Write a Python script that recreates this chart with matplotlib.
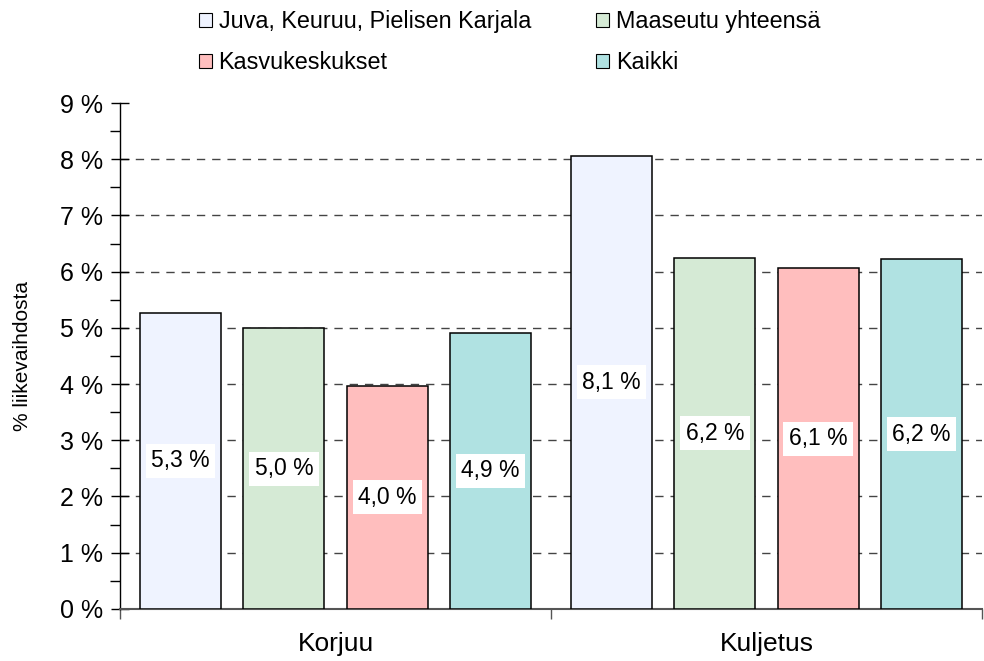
import numpy as np
import matplotlib
matplotlib.use("Agg")
import matplotlib.pyplot as plt
from matplotlib.patches import Patch

plt.rcParams['font.family'] = ['Liberation Sans', 'DejaVu Sans']

# data
categories = ['Korjuu', 'Kuljetus']
series = ['Juva, Keuruu, Pielisen Karjala', 'Maaseutu yhteensä', 'Kasvukeskukset', 'Kaikki']
juva = [5.27, 8.06]
maaseutu = [4.99, 6.24]
kasvu = [3.97, 6.06]
kaikki = [4.91, 6.22]
values = [juva, maaseutu, kasvu, kaikki]
colors = ['#eff3ff', '#d5ead5', '#ffbebe', '#b0e2e2']

fig = plt.figure(figsize=(9.84, 6.61), dpi=100)
ax = fig.add_axes([0.122, 0.079, 0.876, 0.765])

x = np.arange(len(categories))
step = 0.24
width = 0.188
for i, (vals, col) in enumerate(zip(values, colors)):
    pos = x + (i - 1.5) * step
    ax.bar(pos, vals, width, color=col, edgecolor='black', linewidth=1.1, zorder=3)
    for p, v in zip(pos, vals):
        ax.text(p, v / 2, ('%.1f %%' % v).replace('.', ','), ha='center', va='center',
                fontsize=16.5, zorder=4,
                bbox=dict(facecolor='white', edgecolor='none', pad=4))

# dashed gridlines
for yv in range(1, 9):
    ax.axhline(yv, color='#444444', lw=1, ls=(0, (6, 5)), zorder=1)

ax.set_xlim(-0.5, 1.5)
ax.set_ylim(0, 9)
ax.set_yticks(range(0, 10))
ax.set_yticklabels(['%d %%' % v for v in range(0, 10)], fontsize=18)
ax.set_yticks(np.arange(0.5, 9, 1), minor=True)
ax.tick_params(axis='y', which='major', direction='inout', length=13, width=1, pad=6)
ax.tick_params(axis='y', which='minor', direction='out', length=7, width=1)

ax.set_xticks(x)
ax.set_xticklabels(categories, fontsize=19)
ax.set_xticks([-0.5, 0.5, 1.5], minor=True)
ax.tick_params(axis='x', which='major', length=0, pad=17)
ax.tick_params(axis='x', which='minor', direction='out', length=7, width=1, color='#555555')

ax.set_ylabel('% liikevaihdosta', fontsize=15)
ax.yaxis.set_label_coords(-0.102, 0.5)

for s in ['top', 'right']:
    ax.spines[s].set_visible(False)
ax.spines['left'].set_linewidth(1)
ax.spines['bottom'].set_color('#555555')
ax.spines['bottom'].set_linewidth(1.5)

order = [0, 2, 1, 3]
handles = [Patch(facecolor=colors[i], edgecolor='black', linewidth=0.8, label=series[i]) for i in order]
fig.legend(handles=handles, loc='upper center', bbox_to_anchor=(0.518, 1.016), ncol=2,
           frameon=False, fontsize=16.8, handlelength=0.56, handleheight=0.56,
           handletextpad=0.28, columnspacing=2.8, labelspacing=0.75)

fig.savefig('out.png', dpi=100)
